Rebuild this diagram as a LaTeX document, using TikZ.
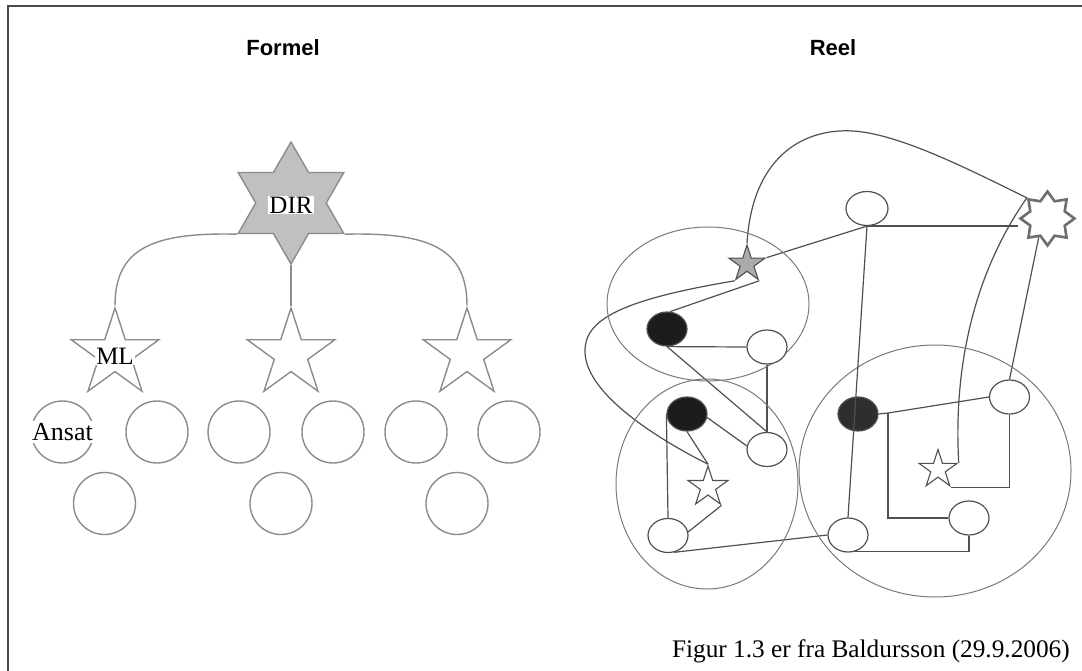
\documentclass[tikz,border=0pt]{standalone}
\usepackage{fontspec}
\setmainfont{Liberation Serif}
\newfontfamily\titlefont{Liberation Sans}
\usetikzlibrary{shapes.geometric,backgrounds,calc}
\definecolor{lgray}{HTML}{8C8C8C}
\definecolor{dirgray}{HTML}{C0C0C0}
\definecolor{dgray}{HTML}{505050}
\definecolor{mgray}{HTML}{7A7A7A}
\definecolor{blk}{HTML}{1C1C1C}
\definecolor{blkthree}{HTML}{2E2E2E}
\definecolor{gstarfill}{HTML}{ABABAB}
\definecolor{hexgray}{HTML}{6E6E6E}
\definecolor{framegray}{HTML}{4A4A4A}
\begin{document}
\begin{tikzpicture}[x=1pt,y=-1pt,
  leftline/.style={draw=lgray, line width=1.4pt},
  lstar/.style={star, star points=5, star point ratio=2.618, minimum size=92pt, inner sep=0pt, draw=lgray, line width=1.4pt, fill=white},
  lcirc/.style={circle, minimum size=62pt, inner sep=0pt, draw=lgray, line width=1.4pt, fill=white},
  lbl/.style={fill=white, inner sep=1pt, font=\fontsize{25}{28}\selectfont},
  rline/.style={draw=dgray, line width=1.2pt},
  bigell/.style={ellipse, draw=mgray, line width=1pt, inner sep=0pt},
  sell/.style={ellipse, minimum width=40pt, minimum height=34pt, inner sep=0pt, draw=dgray, line width=1.2pt, fill=white},
  bell/.style={sell, fill=blk},
  rstar/.style={star, star points=5, star point ratio=2.618, inner sep=0pt, draw=dgray, line width=1.1pt, fill=white},
  titlestyle/.style={font=\titlefont\bfseries\fontsize{22}{26}\selectfont, anchor=base, inner sep=0pt}
]
\useasboundingbox (0,0) rectangle (1082,671);

% frame
\draw[line width=2pt, draw=framegray] (7.5,671) -- (7.5,6.5) -- (1082,6.5);

% titles
\node[titlestyle] (t1) at (283,56) {Formel};
\node[titlestyle] (t2) at (833,56) {Reel};

% ===== Formel =====
\node[lstar, star points=6, star point ratio=1.732, minimum size=122pt, fill=dirgray] (dir) at (291,203) {};
\node[lbl] (dirl) at (291,205) {DIR};
\node[lstar] (s1) at (115,354) {};
\node[lstar] (s2) at (291,354) {};
\node[lstar] (s3) at (467,354) {};
\node[lbl] (mll) at (115,356) {ML};

\node[lcirc] (c1) at (62.5,432) {};
\node[lcirc] (c2) at (157,432) {};
\node[lcirc] (c3) at (239,432) {};
\node[lcirc] (c4) at (333,432) {};
\node[lcirc] (c5) at (416,432) {};
\node[lcirc] (c6) at (509,432) {};
\node[lcirc] (c7) at (104.5,503.5) {};
\node[lcirc] (c8) at (281,503.5) {};
\node[lcirc] (c9) at (457,503.5) {};
\node[lbl, font=\fontsize{26}{28}\selectfont, inner sep=2pt] (ansl) at (62.5,432) {Ansat};

% ===== Reel =====
\node[bigell, minimum width=202pt, minimum height=154pt] (g1) at (708,304) {};
\node[bigell, minimum width=182pt, minimum height=210pt] (g2) at (707,484) {};
\node[bigell, minimum width=272pt, minimum height=252pt] (g3) at (935,471) {};

\node[sell, minimum width=42pt] (te) at (867,208.5) {};
\node[rstar, minimum size=38pt, fill=gstarfill] (gs) at (747,264) {};
\node[star, star points=8, star point ratio=1.45, minimum size=54pt, inner sep=0pt, draw=hexgray, line width=2.6pt, fill=white] (hx) at (1047.5,218.5) {};
\node[bell] (b1) at (667,329) {};
\node[sell] (w1) at (767,347) {};
\node[bell] (b2) at (687,414) {};
\node[sell] (w2) at (767,449.5) {};
\node[rstar, minimum size=42pt] (st2) at (708,487) {};
\node[sell] (w3) at (668,535.5) {};
\node[bell, fill=blkthree] (b3) at (858,414) {};
\node[sell] (w4) at (848,535) {};
\node[sell] (w5) at (969,518) {};
\node[sell] (w6) at (1009.5,397) {};
\node[rstar, minimum size=40pt] (st3) at (938,469.5) {};
\coordinate (j3) at (888,413);

% caption
\node[font=\fontsize{25.3}{28}\selectfont, anchor=base east, inner sep=0pt] (cap) at (1070,657) {Figur 1.3 er fra Baldursson (29.9.2006)};

\begin{pgfonlayer}{background}
\fill[white] (0,0) rectangle (1082,671);
% Formel connectors
\draw[leftline] (dir.outer point 3) .. controls (150,232) and (115,250) .. (s1.outer point 1);
\draw[leftline] (dir.outer point 5) .. controls (432,232) and (467,250) .. (s3.outer point 1);
\draw[leftline] (dir.outer point 4) -- (s2.outer point 1);
% Reel connectors
\draw[rline] (gs.outer point 1) .. controls (752,160) and (800,128) .. (853,131) .. controls (900,134) and (970,170) .. (hx.outer point 2);
\draw[rline] (st3.outer point 5) .. controls (954,380) and (968,282) .. (hx.outer point 2);
\draw[rline] (te.south) -- (gs.outer point 5);
\draw[rline] (te.south) -- (te.south -| hx.west);
\draw[rline] (hx.245) -- (w6.north);
\draw[rline] (gs.outer point 4) -- (b1.80);
\draw[rline] (gs.outer point 3) .. controls (620,300) and (584,320) .. (585,352) .. controls (586,395) and (660,440) .. (st2.outer point 1);
\draw[rline] (b1.south) -- (w1.west);
\draw[rline] (b1.south) -- (w2.north);
\draw[rline] (w1.south) -- (w2.north);
\draw[rline] (b2.-10) -- (w2.170);
\draw[rline] (b2.south) -- (st2.outer point 1);
\draw[rline] (b2.west) -- (w3.north);
\draw[rline] (w3.10) -- (st2.outer point 4);
\draw[rline] (w3.-70) -- (w4.west);
\draw[rline] (w4.-70) -| (w5.south);
\draw[rline] (b3.east) -- (j3) -- (w6.west);
\draw[rline] (j3) |- (w5.west);
\draw[rline] (w6.south) |- (st3.outer point 4);
\end{pgfonlayer}
\draw[rline] (te.south) -- (w4.north);
\end{tikzpicture}
\end{document}
